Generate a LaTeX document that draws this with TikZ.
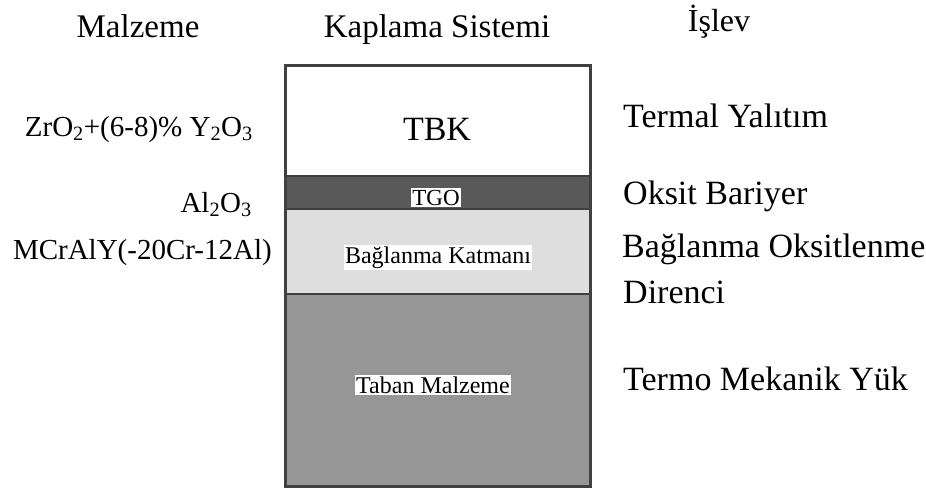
\documentclass[tikz,border=0pt]{standalone}
\usepackage{fontspec}
\setmainfont{Liberation Serif}
\newcommand{\fsz}[1]{\fontsize{#1}{#1}\selectfont}
\begin{document}
\begin{tikzpicture}[x=1pt,y=-1pt,
  hdr/.style={inner sep=0pt,anchor=base,font=\fsz{33}},
  lft/.style={inner sep=0pt,anchor=base east,font=\fsz{29}},
  rgt/.style={inner sep=0pt,anchor=base west,font=\fsz{34}},
  inl/.style={inner sep=1.5pt,anchor=base,fill=white,font=\fsz{24}},
  border/.style={draw=black!75,line width=3pt}]
\useasboundingbox (0,0) rectangle (926,492);
% layers
\fill[white] (285,66) rectangle (590,176);
\fill[black!65] (285,176) rectangle (590,209);
\fill[black!13] (285,209) rectangle (590,294);
\fill[black!41] (285,294) rectangle (590,486);
\draw[black!75,line width=2pt] (285,176) -- (590,176) (285,209) -- (590,209) (285,294) -- (590,294);
\draw[border] (285,66) rectangle (590,486);
% headers
\node[hdr] (h1) at (138,38) {Malzeme};
\node[hdr] (h2) at (437,38) {Kaplama Sistemi};
\node[hdr,font=\fsz{32}] (h3) at (719,32) {İşlev};
% left labels
\node[lft] (m1) at (253,136) {ZrO\textsubscript{2}+(6-8)\% Y\textsubscript{2}O\textsubscript{3}};
\node[lft] (m2) at (252,212) {Al\textsubscript{2}O\textsubscript{3}};
\node[lft] (m3) at (272,259) {MCrAlY(-20Cr-12Al)};
% inner labels
\node[inner sep=0pt,anchor=base,font=\fsz{34}] (l1) at (437,140) {TBK};
\node[inl,font=\fsz{23}] (l2) at (436,205) {TGO};
\node[inl] (l3) at (438,263) {Bağlanma Katmanı};
\node[inl] (l4) at (433,393) {Taban Malzeme};
% right labels
\node[rgt] (f1) at (623,128) {Termal Yalıtım};
\node[rgt] (f2) at (623,204) {Oksit Bariyer};
\node[rgt] (f3) at (622,257) {Bağlanma Oksitlenme};
\node[rgt] (f4) at (623,303) {Direnci};
\node[rgt] (f5) at (623,390) {Termo Mekanik Yük};
\end{tikzpicture}
\end{document}
